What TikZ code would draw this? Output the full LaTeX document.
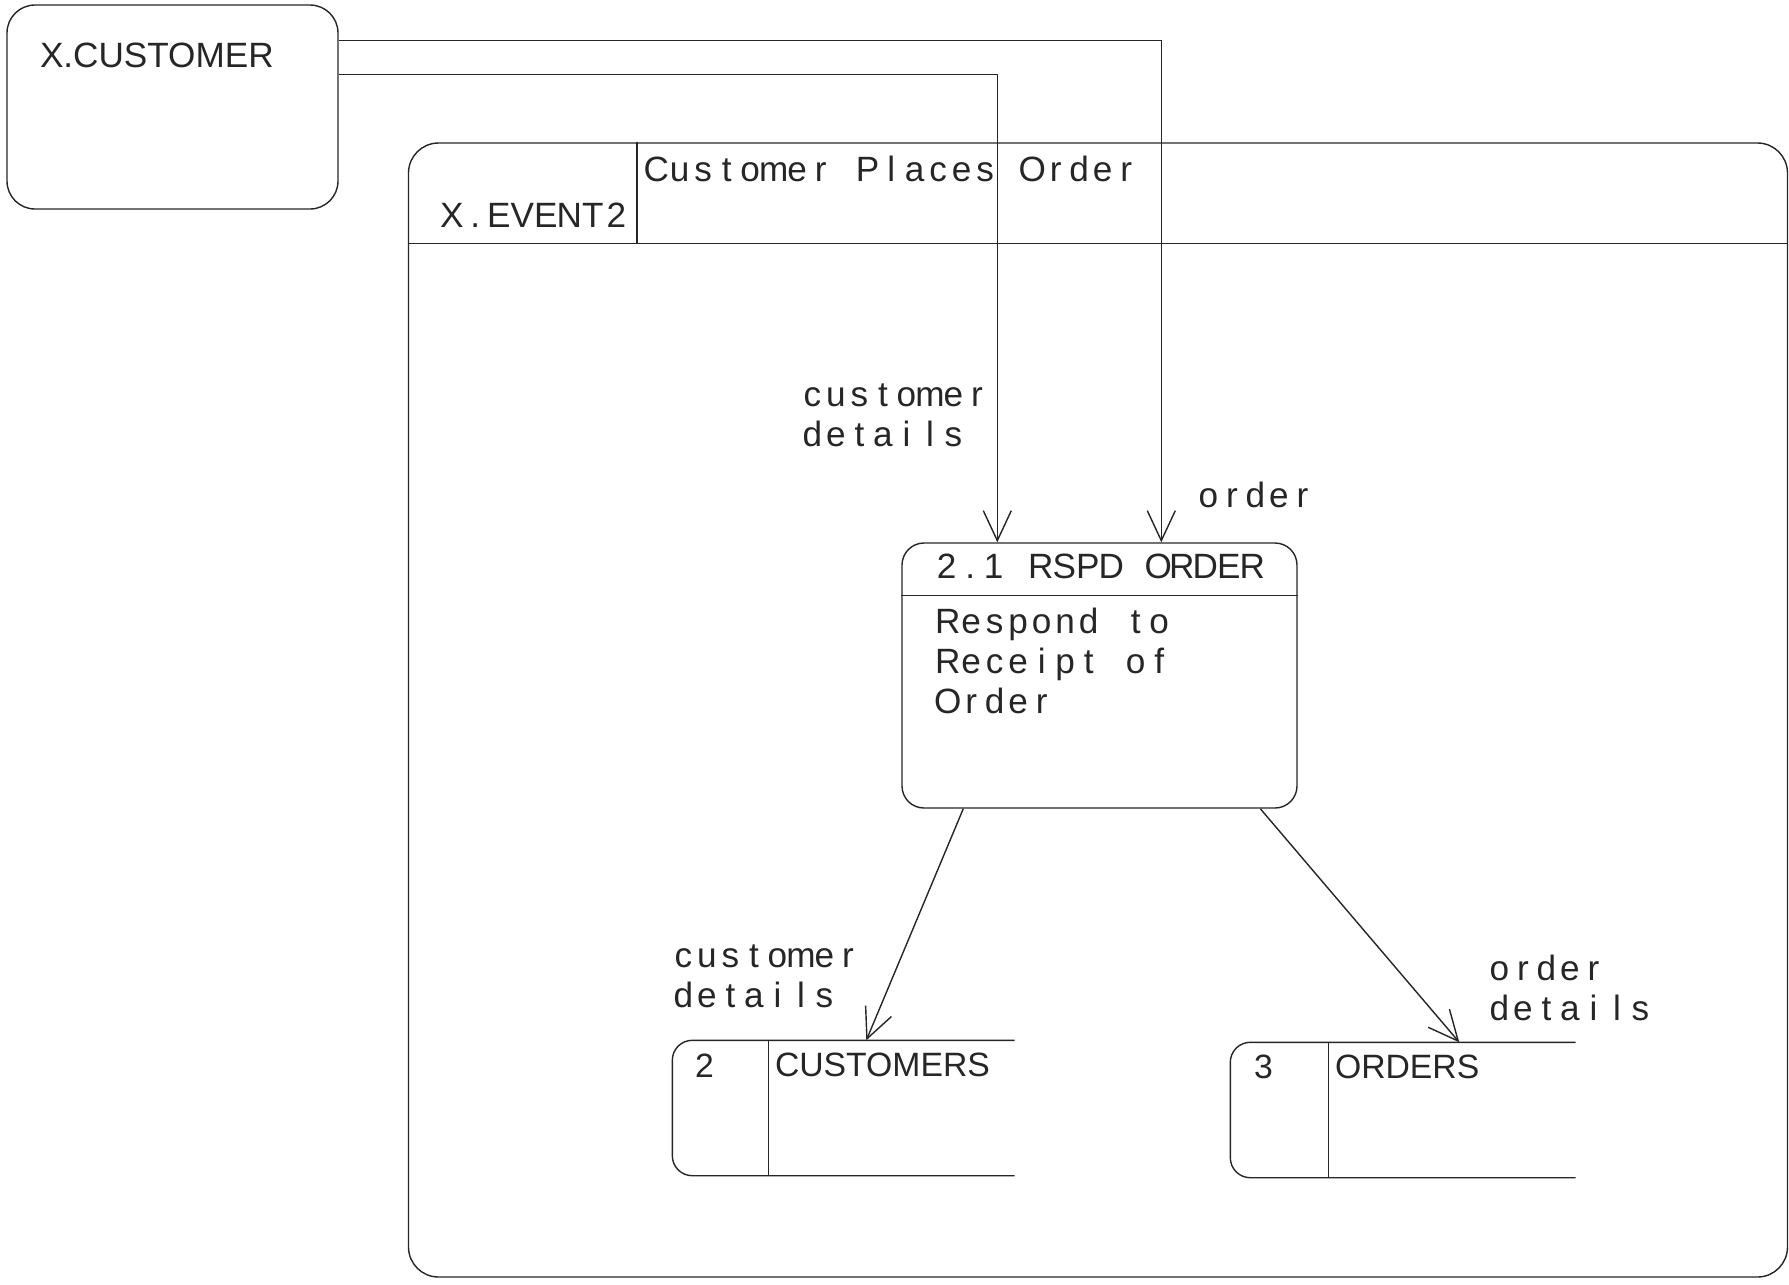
\documentclass[tikz,border=0pt]{standalone}
\usepackage{fontspec}
\setmainfont{Liberation Sans}
\usetikzlibrary{positioning, arrows.meta}

% fixed pitch lettering, one cell per character
\newlength{\cellwd}
\setlength{\cellwd}{0.235cm}
\newcommand{\spaced}[1]{\spacedloop#1\relax}
\newcommand{\spacedloop}[1]{\ifx#1\relax\else\makebox[\cellwd]{#1}\expandafter\spacedloop\fi}

\begin{document}
\begin{tikzpicture}[
    line width=0.4pt, color=black!85,
    extent/.style={draw, rounded corners=0.28cm, inner sep=0},
    frame/.style={draw, rounded corners=0.3cm, inner sep=0},
    process/.style={draw, rounded corners=0.22cm, inner sep=0},
    store/.style={inner sep=0},
    boxname/.style={inner sep=0, anchor=base west, font=\fontsize{10}{12}\selectfont},
    storename/.style={boxname, font=\fontsize{9.6}{12}\selectfont},
    lbl/.style={inner sep=0, anchor=base west, align=left, font=\fontsize{10}{11.2}\selectfont},
    flow/.style={-{Straight Barb[length=3mm, width=2.8mm]}}
]
\useasboundingbox (0,0) rectangle (17.89,-12.84);

% Nodes
\node[extent, minimum width=3.31cm, minimum height=2.04cm] (customer) at (1.725,-1.07) {};
\node[frame, minimum width=13.79cm, minimum height=11.34cm] (event) at (10.98,-7.10) {};
\node[process, minimum width=3.95cm, minimum height=2.65cm] (rspd) at (10.995,-6.755) {};
\node[store, minimum width=3.41cm, minimum height=1.34cm] (customers) at (8.435,-11.08) {};
\node[store, minimum width=3.44cm, minimum height=1.34cm] (orders) at (14.03,-11.10) {};

% Compartments
\draw ([yshift=-1.01cm]event.north west) -- ([yshift=-1.01cm]event.north east);
\draw ([xshift=2.29cm]event.north west) -- ([xshift=2.29cm,yshift=-1.01cm]event.north west);
\draw ([yshift=-0.53cm]rspd.north west) -- ([yshift=-0.53cm]rspd.north east);
\draw[rounded corners=0.2cm] (customers.north east) -- (customers.north west) -- (customers.south west) -- (customers.south east);
\draw ([xshift=0.96cm]customers.north west) -- ([xshift=0.96cm]customers.south west);
\draw[rounded corners=0.2cm] (orders.north east) -- (orders.north west) -- (orders.south west) -- (orders.south east);
\draw ([xshift=0.98cm]orders.north west) -- ([xshift=0.98cm]orders.south west);

% Texts
\node[boxname] (custname) at ([shift={(0.33,-0.63)}]customer.north west) {X.CUSTOMER};
\node[boxname, anchor=base east] (evname) at ([shift={(2.21,-0.85)}]event.north west) {\spaced{X.EVENT2}};
\node[boxname] (evtitle) at ([shift={(2.36,-0.39)}]event.north west) {\spaced{Customer~Places~Order}};
\node[boxname] (rspdname) at ([shift={(0.33,-0.36)}]rspd.north west) {\spaced{2.1~RSPD~ORDER}};
\node[lbl, font=\fontsize{10}{11.4}\selectfont] (rspdtext) at ([shift={(0.34,-1.71)}]rspd.north west)
    {\spaced{Respond~to}\\\spaced{Receipt~of}\\\spaced{Order}};
\node[storename] (custnum) at ([shift={(0.22,-0.37)}]customers.north west) {2};
\node[storename] (custtitle) at ([shift={(1.02,-0.36)}]customers.north west) {CUSTOMERS};
\node[storename] (ordnum) at ([shift={(0.23,-0.36)}]orders.north west) {3};
\node[storename] (ordtitle) at ([shift={(1.04,-0.36)}]orders.north west) {ORDERS};

% Flow labels
\node[lbl] (cdetin) at (8.00,-4.46) {\spaced{customer}\\\spaced{details}};
\node[lbl] (ordin) at (11.96,-5.07) {\spaced{order}};
\node[lbl] (cdetout) at (6.71,-10.07) {\spaced{customer}\\\spaced{details}};
\node[lbl] (odetout) at (14.87,-10.20) {\spaced{order}\\\spaced{details}};

% Arrows
\draw[flow] ([yshift=-0.36cm]customer.north east) -| ([xshift=2.60cm]rspd.north west);
\draw[flow] ([yshift=-0.70cm]customer.north east) -| ([xshift=0.96cm]rspd.north west);
\draw[flow] ([xshift=0.62cm]rspd.south west) -- ([xshift=1.94cm]customers.north west);
\draw[flow] ([xshift=3.59cm]rspd.south west) -- ([xshift=2.29cm]orders.north west);

\end{tikzpicture}
\end{document}
